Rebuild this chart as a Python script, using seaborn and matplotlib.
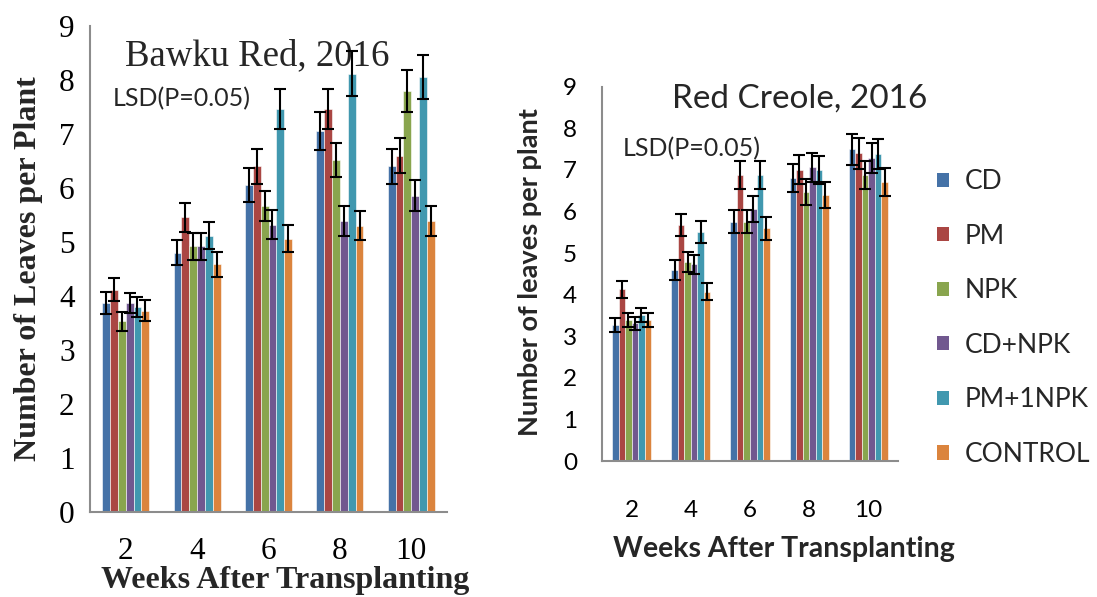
import pandas as pd
import matplotlib
matplotlib.use("Agg")
import matplotlib.pyplot as plt
import seaborn as sns
from matplotlib.patches import Patch

# Categories
weeks = ["2", "4", "6", "8", "10"]
treatments = ["CD", "PM", "NPK", "CD+NPK", "PM+1NPK", "CONTROL"]
colors = ["#4572A7", "#AA4643", "#89A54E", "#71588F", "#4198AF", "#DB843D"]

# Bawku Red, 2016 - means and error bar half-widths
bawku_cd = [3.87, 4.80, 6.06, 7.06, 6.40]
bawku_pm = [4.12, 5.46, 6.40, 7.46, 6.60]
bawku_npk = [3.53, 4.92, 5.66, 6.52, 7.79]
bawku_cdnpk = [3.87, 4.92, 5.32, 5.39, 5.86]
bawku_pmnpk = [3.80, 5.12, 7.46, 8.12, 8.05]
bawku_control = [3.73, 4.59, 5.06, 5.30, 5.39]

bawku_cd_err = [0.20, 0.23, 0.31, 0.35, 0.32]
bawku_pm_err = [0.21, 0.27, 0.32, 0.37, 0.33]
bawku_npk_err = [0.17, 0.25, 0.28, 0.32, 0.39]
bawku_cdnpk_err = [0.19, 0.25, 0.27, 0.28, 0.29]
bawku_pmnpk_err = [0.19, 0.25, 0.37, 0.41, 0.41]
bawku_control_err = [0.19, 0.23, 0.25, 0.27, 0.27]

# Red Creole, 2016 - means and error bar half-widths
creole_cd = [3.27, 4.59, 5.75, 6.80, 7.49]
creole_pm = [4.13, 5.67, 6.87, 7.00, 7.40]
creole_npk = [3.39, 4.79, 5.75, 6.47, 6.87]
creole_cdnpk = [3.31, 4.73, 6.06, 7.06, 7.28]
creole_pmnpk = [3.51, 5.51, 6.87, 7.00, 7.38]
creole_control = [3.39, 4.07, 5.59, 6.39, 6.71]

creole_cd_err = [0.16, 0.23, 0.28, 0.34, 0.37]
creole_pm_err = [0.20, 0.27, 0.34, 0.35, 0.37]
creole_npk_err = [0.17, 0.24, 0.28, 0.32, 0.34]
creole_cdnpk_err = [0.15, 0.23, 0.31, 0.35, 0.36]
creole_pmnpk_err = [0.17, 0.27, 0.34, 0.34, 0.35]
creole_control_err = [0.16, 0.21, 0.28, 0.31, 0.34]

SERIF = ["Liberation Serif", "DejaVu Serif"]
SANS = ["Lato", "DejaVu Sans"]
AXIS_GREY = "#8c8c8c"


def to_long(series, errors):
    """Build a long dataframe (week, treatment, value, err) from per-treatment lists."""
    rows = []
    for name, vals, errs in zip(treatments, series, errors):
        for w, v, e in zip(weeks, vals, errs):
            rows.append({"week": w, "treatment": name, "leaves": v, "err": e})
    return pd.DataFrame(rows)


def draw_panel(ax, df, capsize, tick_font, tick_size):
    sns.barplot(data=df, x="week", y="leaves", hue="treatment", order=weeks,
                hue_order=treatments, palette=colors, saturation=1, width=0.66,
                errorbar=None, edgecolor="white", linewidth=0.4, legend=False, ax=ax)

    # Error bars on top of each bar, positions taken from the drawn patches
    bar_containers = list(ax.containers)
    for name, container in zip(treatments, bar_containers):
        sub = df[df["treatment"] == name].set_index("week").loc[weeks]
        xs = [p.get_x() + p.get_width() / 2 for p in container.patches]
        ys = [p.get_height() for p in container.patches]
        ax.errorbar(xs, ys, yerr=sub["err"].values, fmt="none", ecolor="black",
                    elinewidth=1.5, capsize=capsize, capthick=1.5, zorder=5)

    ax.set_ylim(0, 9)
    ax.set_xlim(-0.5, 4.5)
    ax.set_yticks(range(10))
    sns.despine(ax=ax)
    for side in ["left", "bottom"]:
        ax.spines[side].set_color(AXIS_GREY)
        ax.spines[side].set_linewidth(1.5)
    ax.tick_params(axis="x", length=0)
    ax.tick_params(axis="y", length=6, width=1.2, color=AXIS_GREY)
    for lbl in ax.get_xticklabels() + ax.get_yticklabels():
        lbl.set_family(tick_font)
        lbl.set_fontsize(tick_size)
        lbl.set_color("black")


sns.set_style("white")
fig = plt.figure(figsize=(10.97, 5.97), dpi=100)

# Left panel: Bawku Red
ax1 = fig.add_axes([90 / 1097, 85 / 597, 357 / 1097, 486 / 597])
bawku = to_long([bawku_cd, bawku_pm, bawku_npk, bawku_cdnpk, bawku_pmnpk, bawku_control],
                [bawku_cd_err, bawku_pm_err, bawku_npk_err, bawku_cdnpk_err,
                 bawku_pmnpk_err, bawku_control_err])
draw_panel(ax1, bawku, capsize=4, tick_font=SERIF, tick_size=22.5)
ax1.tick_params(axis="x", pad=18)
ax1.tick_params(axis="y", pad=5)
ax1.set_ylabel("Number of Leaves per Plant", family=SERIF, fontsize=23, fontweight="bold")
ax1.yaxis.label.set_va("center")
ax1.yaxis.set_label_coords(-0.172, 0.5)
ax1.set_xlabel("Weeks After Transplanting", family=SERIF, fontsize=23, fontweight="bold")
ax1.xaxis.label.set_va("center")
ax1.xaxis.set_label_coords(0.546, -0.14)
ax1.text(0.468, 0.92, "Bawku Red, 2016", transform=ax1.transAxes, ha="center",
         va="baseline", family=SERIF, fontsize=26.5, zorder=1)
ax1.text(0.064, 0.835, "LSD(P=0.05)", transform=ax1.transAxes, ha="left",
         va="baseline", family=SANS, fontsize=18, zorder=1)

# Right panel: Red Creole
ax2 = fig.add_axes([602 / 1097, 136 / 597, 296 / 1097, 374.4 / 597])
creole = to_long([creole_cd, creole_pm, creole_npk, creole_cdnpk, creole_pmnpk, creole_control],
                 [creole_cd_err, creole_pm_err, creole_npk_err, creole_cdnpk_err,
                  creole_pmnpk_err, creole_control_err])
draw_panel(ax2, creole, capsize=4.3, tick_font=SANS, tick_size=17.5)
ax2.tick_params(axis="x", pad=28)
ax2.tick_params(axis="y", pad=12)
ax2.set_ylabel("Number of leaves per plant", family=SANS, fontsize=19.5, fontweight="bold")
ax2.yaxis.label.set_va("center")
ax2.yaxis.set_label_coords(-0.243, 0.505)
ax2.set_xlabel("Weeks After Transplanting", family=SANS, fontsize=20.5, fontweight="bold")
ax2.xaxis.label.set_va("center")
ax2.xaxis.set_label_coords(0.615, -0.235)
ax2.text(0.669, 0.943, "Red Creole, 2016", transform=ax2.transAxes, ha="center",
         va="baseline", family=SANS, fontsize=24, zorder=1)
ax2.text(0.071, 0.815, "LSD(P=0.05)", transform=ax2.transAxes, ha="left",
         va="baseline", family=SANS, fontsize=18, zorder=1)

# Legend to the right of the second panel
handles = [Patch(facecolor=c, edgecolor="none") for c in colors]
leg = fig.legend(handles, treatments, loc="center left",
                 bbox_to_anchor=(937 / 1097, 1 - 318 / 597), frameon=False,
                 prop={"family": SANS, "size": 19}, handlelength=0.45, handleheight=0.45,
                 handletextpad=0.6, labelspacing=1.12, borderpad=0, borderaxespad=0)

fig.savefig("out.png", dpi=100)
